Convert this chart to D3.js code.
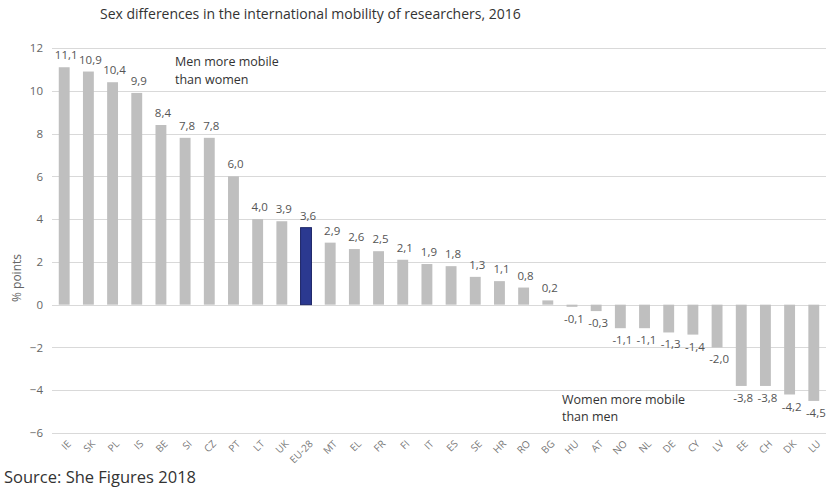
<!DOCTYPE html>
<html lang="en">
	<head>
		<meta charset="utf-8">
		<title>Sex differences in the international mobility of researchers, 2016</title>
		<script type="text/javascript" src="https://cdn.jsdelivr.net/npm/d3@7"></script>
		<style type="text/css">
			body { margin: 0; background: #fff; }
			text { font-family: "Open Sans", "Noto Sans", sans-serif; }
		</style>
	</head>
	<body>
		<script type="text/javascript">

			//Data
			var countries = ["IE", "SK", "PL", "IS", "BE", "SI", "CZ", "PT", "LT", "UK", "EU-28",
				"MT", "EL", "FR", "FI", "IT", "ES", "SE", "HR", "RO", "BG", "HU", "AT", "NO",
				"NL", "DE", "CY", "LV", "EE", "CH", "DK", "LU"];
			var diffs = [11.1, 10.9, 10.4, 9.9, 8.4, 7.8, 7.8, 6.0, 4.0, 3.9, 3.6,
				2.9, 2.6, 2.5, 2.1, 1.9, 1.8, 1.3, 1.1, 0.8, 0.2, -0.1, -0.3, -1.1,
				-1.1, -1.3, -1.4, -2.0, -3.8, -3.8, -4.2, -4.5];
			var yTicks = [-6, -4, -2, 0, 2, 4, 6, 8, 10, 12];
			var highlight = "EU-28";

			//Width and height
			var w = 826;
			var h = 488;

			var svg = d3.select("body")
						.append("svg")
						.attr("width", w)
						.attr("height", h);

			var x = d3.scaleBand()
				.domain(countries)
				.range([52, 826])
				.paddingInner(0.55)
				.paddingOuter(0.28);

			var y = d3.scaleLinear()
				.domain([-6, 12])
				.range([433, 48]);

			//Gridlines
			svg.append("g")
				.selectAll("line")
				.data(yTicks)
				.enter()
				.append("line")
				.attr("x1", 52)
				.attr("x2", w)
				.attr("y1", function(d) { return Math.round(y(d)) + 0.5; })
				.attr("y2", function(d) { return Math.round(y(d)) + 0.5; })
				.style("stroke", "#d9d9d9")
				.style("stroke-width", 1);

			//Y axis labels
			var yAxis = d3.axisLeft(y).tickValues(yTicks).tickSize(0).tickPadding(0);
			var gy = svg.append("g")
				.attr("transform", "translate(43,0)")
				.call(yAxis);
			gy.select(".domain").remove();
			gy.selectAll("text")
				.style("font-family", "'Open Sans', sans-serif")
				.style("font-size", "11.5px")
				.style("fill", "#666");

			//Bars
			svg.append("g")
				.selectAll("rect")
				.data(diffs)
				.enter()
				.append("rect")
				.attr("x", function(d, i) { return x(countries[i]); })
				.attr("width", x.bandwidth())
				.attr("y", function(d) { return y(Math.max(0, d)); })
				.attr("height", function(d) { return Math.abs(y(d) - y(0)); })
				.style("fill", function(d, i) { return countries[i] === highlight ? "#2b3990" : "#bfbfbf"; })
				.style("stroke", function(d, i) { return countries[i] === highlight ? "#1c2466" : "none"; });

			//Value labels
			var fmt = function(d) { return d3.format(".1f")(d).replace(".", ",").replace("−", "-"); };
			svg.append("g")
				.selectAll("text")
				.data(diffs)
				.enter()
				.append("text")
				.attr("x", function(d, i) { return x(countries[i]) + x.bandwidth() / 2 + 2; })
				.attr("y", function(d) { return d >= 0 ? y(d) - 8 : y(d) + 16; })
				.attr("text-anchor", "middle")
				.style("font-size", "11.5px")
				.style("fill", "#555")
				.text(fmt);

			//X axis labels
			svg.append("g")
				.selectAll("text")
				.data(countries)
				.enter()
				.append("text")
				.attr("transform", function(d) {
					return "translate(" + (x(d) + x.bandwidth() / 2 + 5) + ",442) rotate(-45)";
				})
				.attr("text-anchor", "end")
				.attr("dy", "0.35em")
				.style("font-size", "10px")
				.style("fill", "#777")
				.text(function(d) { return d; });

			//Y axis title
			svg.append("text")
				.attr("transform", "translate(21,278) rotate(-90)")
				.attr("text-anchor", "middle")
				.style("font-size", "12px")
				.style("fill", "#666")
				.text("% points");

			//Title
			svg.append("text")
				.attr("x", 100)
				.attr("y", 19)
				.style("font-size", "14px")
				.style("fill", "#333")
				.text("Sex differences in the international mobility of researchers, 2016");

			//Annotations
			var notes = [
				{ x: 175, y: 66, t: "Men more mobile" },
				{ x: 175, y: 84, t: "than women" },
				{ x: 562, y: 404, t: "Women more mobile" },
				{ x: 562, y: 421, t: "than men" }
			];
			svg.append("g")
				.selectAll("text")
				.data(notes)
				.enter()
				.append("text")
				.attr("x", function(d) { return d.x; })
				.attr("y", function(d) { return d.y; })
				.style("font-size", "12.5px")
				.style("fill", "#333")
				.text(function(d) { return d.t; });

			//Source
			svg.append("text")
				.attr("x", 4)
				.attr("y", 483)
				.style("font-size", "16.5px")
				.style("fill", "#333")
				.text("Source: She Figures 2018");

		</script>
	</body>
</html>
